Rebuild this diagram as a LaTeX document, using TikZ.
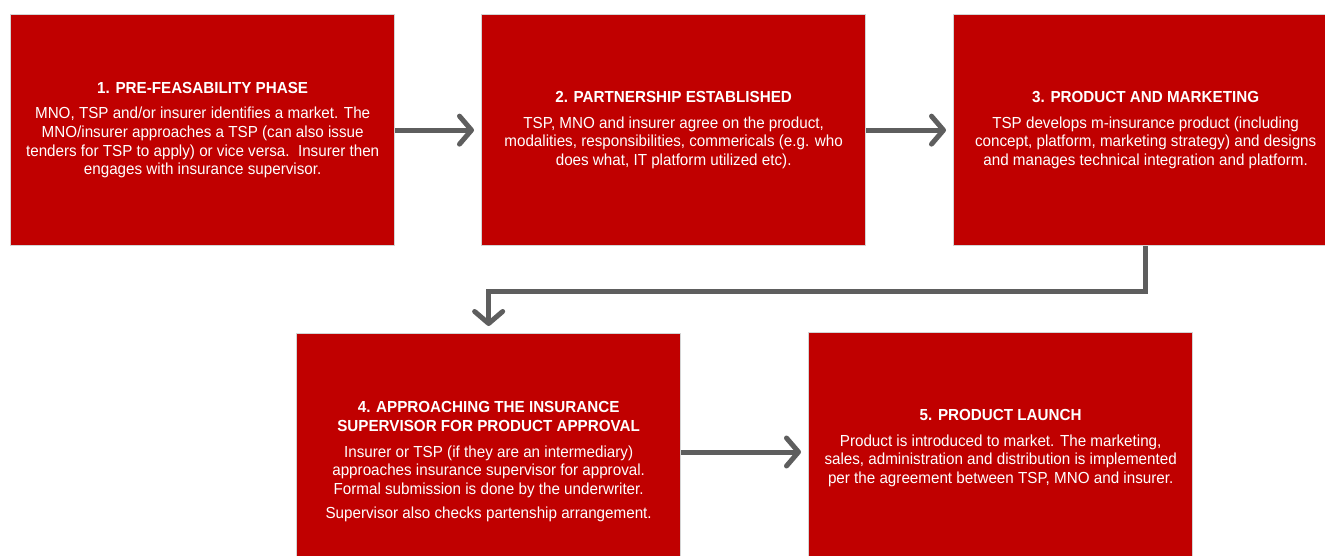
\documentclass[tikz,border=0pt]{standalone}
\usepackage{fontspec}
\setmainfont{Liberation Sans}[FakeStretch=0.95]
\usetikzlibrary{arrows.meta}
\definecolor{boxred}{HTML}{C00000}
\definecolor{arrowgray}{HTML}{5E5E5E}
\definecolor{edgegray}{HTML}{D4D4D4}
\begin{document}
\begin{tikzpicture}[x=1pt,y=-1pt,
  stepbox/.style={fill=boxred, draw=edgegray, line width=1.3pt,
    minimum width=384pt, minimum height=231pt, text=white, align=center,
    font=\fontsize{16}{18.7}\selectfont, inner sep=0pt, anchor=north west},
  flow/.style={draw=arrowgray, line width=5pt,
    -{Straight Barb[length=12pt,width=28pt,round]}, shorten >=7pt}]
\useasboundingbox (0,0) rectangle (1325,556);
\clip (0,0) rectangle (1325,556);

\node[stepbox] (b1) at (10,14) {{\bfseries 1. PRE-FEASABILITY PHASE}\\[7pt]
  MNO, TSP and/or insurer identifies a market. The\\
  MNO/insurer approaches a TSP (can also issue\\
  tenders for TSP to apply) or vice versa.\ \ Insurer then\\
  engages with insurance supervisor.};

\node[stepbox] (b2) at (481,14) {{\bfseries 2. PARTNERSHIP ESTABLISHED}\\[7pt]
  TSP, MNO and insurer agree on the product,\\
  modalities, responsibilities, commericals (e.g. who\\
  does what, IT platform utilized etc).};

\node[stepbox] (b3) at (953,14) {{\bfseries 3. PRODUCT AND MARKETING}\\[7pt]
  TSP develops m-insurance product (including\\
  concept, platform, marketing strategy) and designs\\
  and manages technical integration and platform.};

\node[stepbox, minimum height=256pt] (b4) at (296,333) {{\bfseries 4. APPROACHING THE INSURANCE}\\
  {\bfseries SUPERVISOR FOR PRODUCT APPROVAL}\\[7pt]
  Insurer or TSP (if they are an intermediary)\\
  approaches insurance supervisor for approval.\\
  Formal submission is done by the underwriter.\\[5pt]
  Supervisor also checks partenship arrangement.};

\node[stepbox] (b5) at (808,332) {{\bfseries 5. PRODUCT LAUNCH}\\[7pt]
  Product is introduced to market. The marketing,\\
  sales, administration and distribution is implemented\\
  per the agreement between TSP, MNO and insurer.};

\draw[flow] (b1.east) -- (b2.west);
\draw[flow] (b2.east) -- (b3.west);
\draw[flow] (b3.south) -- ++(0,45) -| (b4.north);
\draw[flow] (b4.east |- 0,452) -- (b5.west |- 0,452);
\end{tikzpicture}
\end{document}
